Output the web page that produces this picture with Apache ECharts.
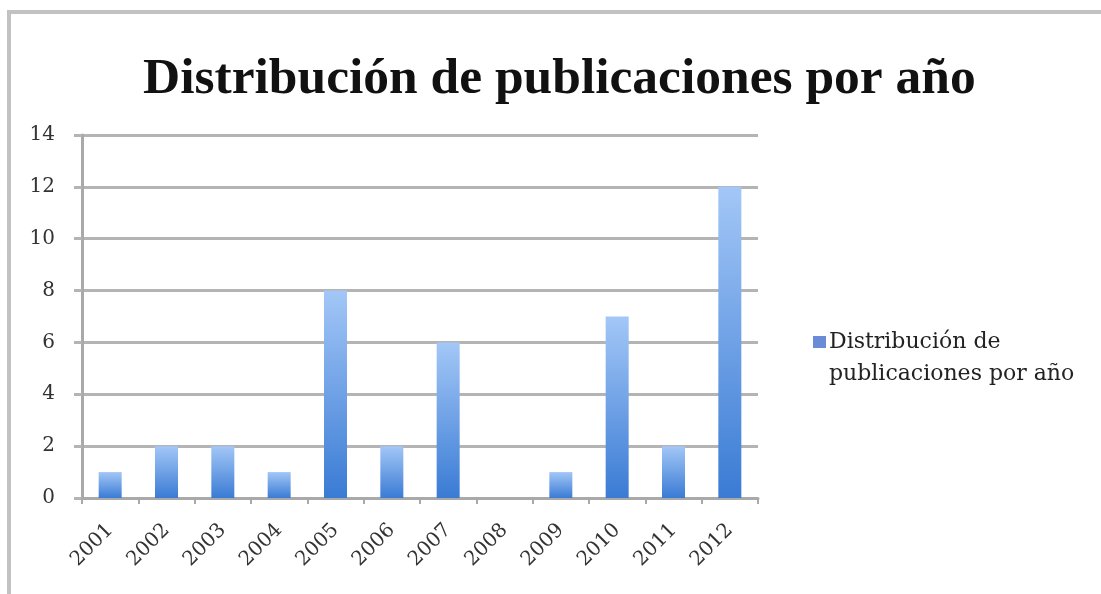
<!DOCTYPE html>
<html>
<head>
<meta charset="utf-8">
<script src="https://cdn.jsdelivr.net/npm/echarts@6/dist/echarts.min.js"></script>
<style>
html,body{margin:0;padding:0;background:#fff;}
#chart{width:1101px;height:594px;}
</style>
</head>
<body>
<div id="chart"></div>
<script>
var titleText = 'Distribución de publicaciones por año';
var seriesName = 'Distribución de publicaciones por año';
var years = ['2001','2002','2003','2004','2005','2006','2007','2008','2009','2010','2011','2012'];
var counts = [1, 2, 2, 1, 8, 2, 6, 0, 1, 7, 2, 12];
var yTicks = {min: 0, max: 14, interval: 2};

var chart = echarts.init(document.getElementById('chart'));
var gridColor = '#b4b4b4';
chart.setOption({
  animation: false,
  backgroundColor: '#ffffff',
  graphic: [
    {type: 'rect', shape: {x: 7, y: 10, width: 1094, height: 4}, style: {fill: '#c2c2c2'}, silent: true},
    {type: 'rect', shape: {x: 7, y: 10, width: 4, height: 584}, style: {fill: '#c2c2c2'}, silent: true}
  ],
  title: {
    text: titleText,
    left: 138,
    top: 49,
    textStyle: {fontFamily: 'Liberation Serif', fontWeight: 'bold', fontSize: 51.5, color: '#111'}
  },
  legend: {
    left: 808,
    top: 289,
    orient: 'vertical',
    itemWidth: 13,
    itemHeight: 12,
    itemGap: 0,
    icon: 'rect',
    data: [{name: seriesName, itemStyle: {color: '#6a8cd6'}}],
    formatter: function () { return '\nDistribución de\npublicaciones por año'; },
    textStyle: {fontFamily: 'DejaVu Serif', fontSize: 22, color: '#222', lineHeight: 32, padding: [0, 0, 0, -2]}
  },
  grid: {left: 82, right: 343, top: 135, bottom: 96, containLabel: false},
  xAxis: {
    type: 'category',
    data: years,
    axisLine: {lineStyle: {color: '#a9a9a9', width: 3}},
    axisTick: {show: true, length: 6, lineStyle: {color: '#a9a9a9', width: 2}},
    axisLabel: {rotate: 45, margin: 29, fontFamily: 'DejaVu Serif', fontSize: 20, color: '#333'}
  },
  yAxis: {
    type: 'value',
    min: yTicks.min, max: yTicks.max, interval: yTicks.interval,
    axisLine: {show: true, lineStyle: {color: '#a9a9a9', width: 3}},
    axisTick: {show: true, length: 8, lineStyle: {color: gridColor, width: 3}},
    splitLine: {show: true, lineStyle: {color: gridColor, width: 3}},
    axisLabel: {margin: 27, fontFamily: 'DejaVu Serif', fontSize: 20, color: '#333'}
  },
  series: [{
    name: seriesName,
    type: 'bar',
    data: counts,
    barWidth: 23,
    itemStyle: {
      color: new echarts.graphic.LinearGradient(0, 0, 0, 1, [
        {offset: 0, color: '#a3c7f7'},
        {offset: 1, color: '#3a7bd4'}
      ])
    }
  }]
});
</script>
</body>
</html>
